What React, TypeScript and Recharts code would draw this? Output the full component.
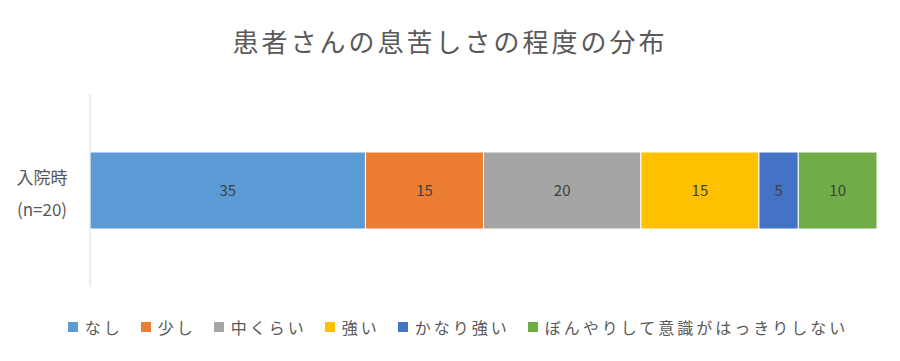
import { Bar, BarChart, LabelList, Legend, XAxis, YAxis } from "recharts"

const categories = ["入院時\n(n=20)"]
const seriesNames = ["なし", "少し", "中くらい", "強い", "かなり強い", "ぼんやりして意識がはっきりしない"]
const seriesValues = [35, 15, 20, 15, 5, 10]
const colors = ["#5B9BD5", "#ED7D31", "#A5A5A5", "#FFC000", "#4472C4", "#70AD47"]

const data = categories.map((cat) => {
  const row: Record<string, string | number> = { cat }
  seriesNames.forEach((name, i) => {
    row[name] = seriesValues[i]
  })
  return row
})

const font = "'Noto Sans CJK JP', 'Noto Sans', sans-serif"

function CategoryTick({ x, y, payload }: any) {
  const lines = String(payload.value).split("\n")
  return (
    <g>
      {lines.map((line, i) => (
        <text
          key={i}
          x={x - 40}
          y={y + (i - 0.5) * 32 + 9}
          textAnchor="middle"
          fill="#595959"
          fontSize={17}
          fontFamily={font}
        >
          {line}
        </text>
      ))}
    </g>
  )
}

function LegendContent({ payload }: any) {
  const items = [...(payload || [])].sort(
    (a: any, b: any) => seriesNames.indexOf(a.value) - seriesNames.indexOf(b.value)
  )
  return (
    <div
      style={{
        height: 24,
        display: "flex",
        justifyContent: "center",
        alignItems: "center",
        fontFamily: font,
        fontSize: 16,
        letterSpacing: 3,
        color: "#595959",
      }}
    >
      {items.map((entry: any, i: number) => (
        <span
          key={entry.value}
          style={{ display: "flex", alignItems: "center", marginRight: i === items.length - 1 ? 0 : 18 }}
        >
          <span style={{ width: 10, height: 10, background: entry.color, marginRight: 7, display: "inline-block" }} />
          {entry.value}
        </span>
      ))}
    </div>
  )
}

export default function App() {
  return (
    <div style={{ position: "absolute", left: 0, top: 0, width: 900, height: 361, background: "#fff" }}>
      <div
        style={{
          position: "absolute",
          top: 22,
          width: 900,
          textAlign: "center",
          fontFamily: font,
          fontSize: 26,
          letterSpacing: 3,
          color: "#595959",
        }}
      >
        患者さんの息苦しさの程度の分布
      </div>
      <BarChart
        width={900}
        height={361}
        data={data}
        layout="vertical"
        margin={{ top: 94, right: 23, bottom: 50, left: 0 }}
      >
        <XAxis type="number" domain={[0, 100]} hide />
        <YAxis
          type="category"
          dataKey="cat"
          width={90}
          tick={<CategoryTick />}
          tickLine={false}
          axisLine={{ stroke: "#D9D9D9" }}
        />
        <Legend
          content={<LegendContent />}
          verticalAlign="bottom"
          wrapperStyle={{ top: 315, left: 8, width: 900 }}
        />
        {seriesNames.map((name, i) => (
          <Bar
            key={name}
            dataKey={name}
            stackId="a"
            fill={colors[i]}
            stroke="#fff"
            strokeWidth={1}
            barSize={77}
            isAnimationActive={false}
          >
            <LabelList dataKey={name} position="center" fill="#404040" fontSize={15} fontFamily={font} />
          </Bar>
        ))}
      </BarChart>
    </div>
  )
}
